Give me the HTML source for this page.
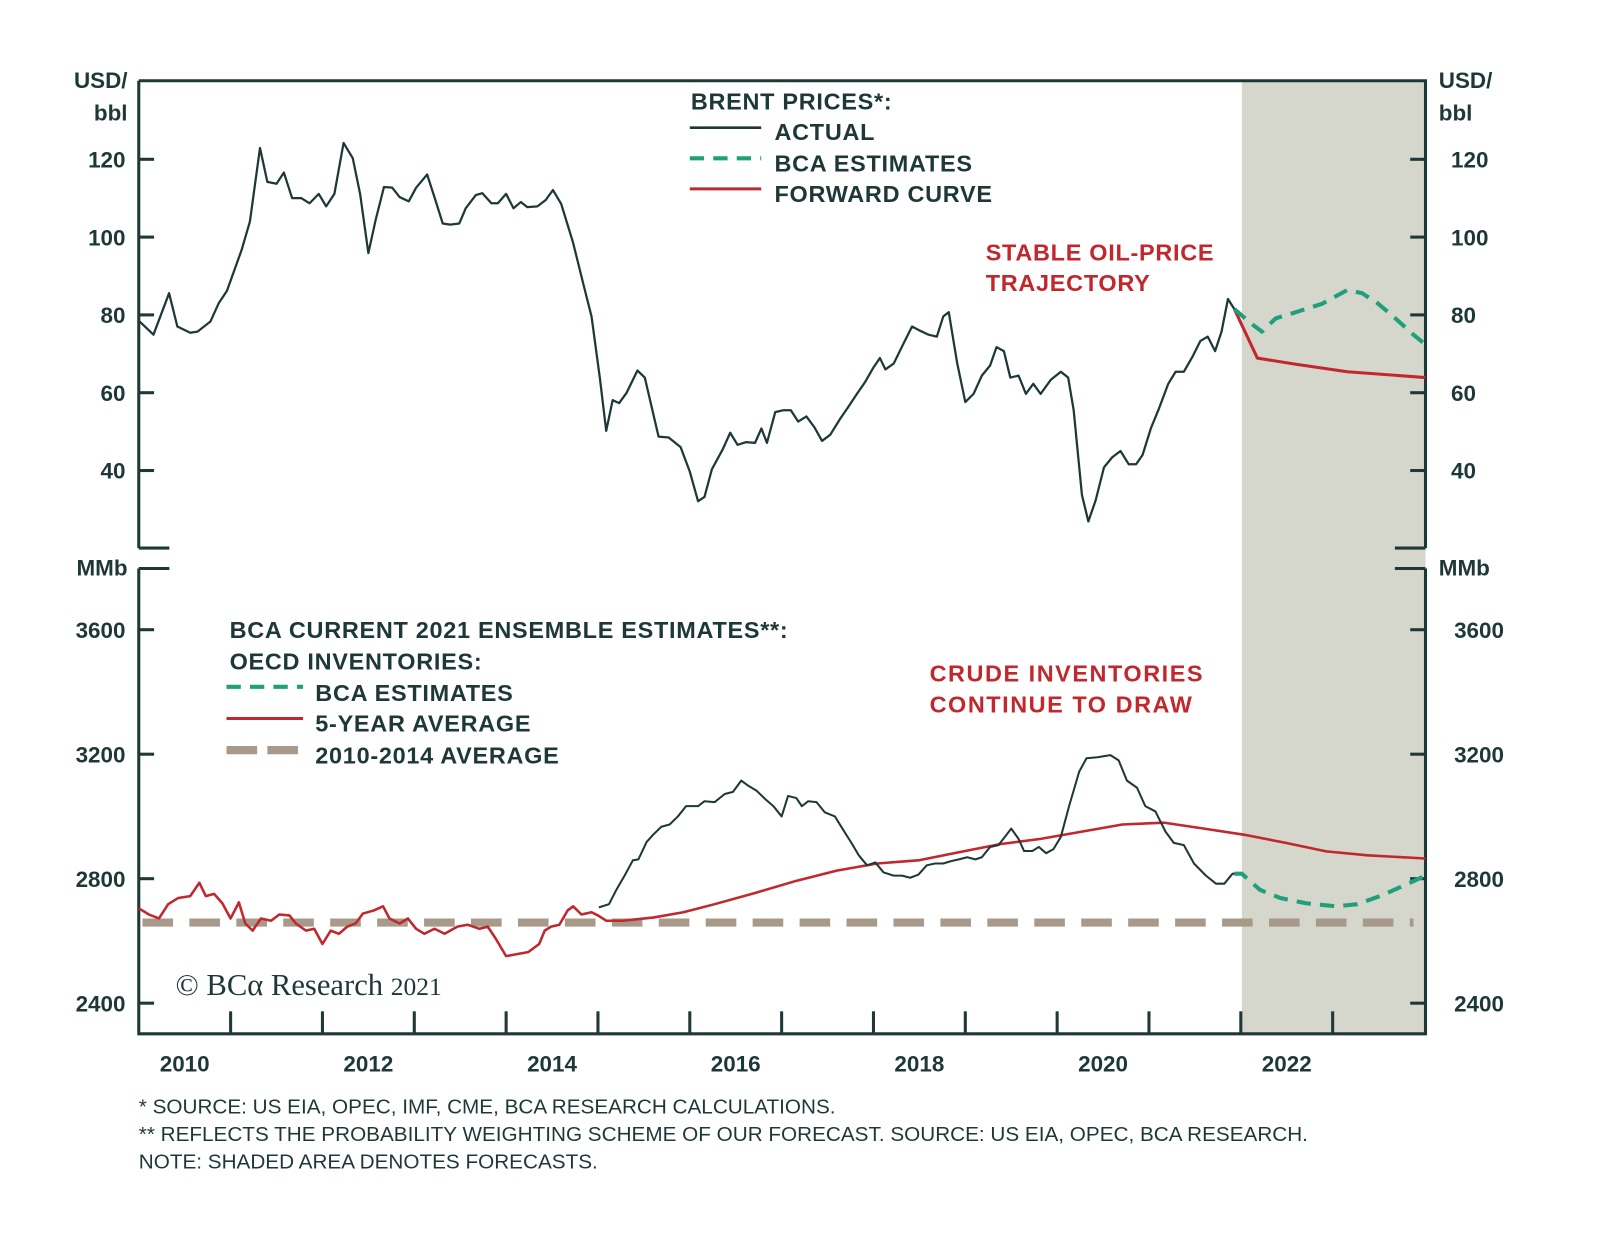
<!DOCTYPE html>
<html><head><meta charset="utf-8"><style>
html,body{margin:0;padding:0;background:#fff;}
svg{display:block;}
text{font-family:"Liberation Sans",sans-serif;font-weight:bold;fill:#1e3838;}
.r{fill:#c0282d;}
.lg{font-size:23px;letter-spacing:0.7px;}
.fn{font-size:20.3px;font-weight:normal;}
</style></head><body>
<svg id="chart" width="1600" height="1239" viewBox="0 0 1568 1214" xmlns="http://www.w3.org/2000/svg">
<rect x="1217" y="79" width="180" height="934" fill="#d5d6cc"/>
<g id="axes" stroke="#1e3838" stroke-width="3" fill="none">
<path d="M136 79 H1397 V537 M136 79 V537 M136 537 H166 M1367 537 H1397"/>
<path d="M136 557 H166 M1367 557 H1397 M136 557 V1013 H1397 V557"/>
</g>
<g id="ticks" stroke="#1e3838" stroke-width="3"></g>
<g id="labels"></g>
<text x="125" y="86" text-anchor="end" font-size="22">USD/</text>
<text x="125" y="118" text-anchor="end" font-size="22">bbl</text>
<text x="1410" y="86" font-size="22">USD/</text>
<text x="1410" y="118" font-size="22">bbl</text>
<text x="125" y="564" text-anchor="end" font-size="22">MMb</text>
<text x="1410" y="564" font-size="22">MMb</text>
<g id="series" fill="none"></g>
<g class="lg">
<text x="677" y="107">BRENT PRICES*:</text>
<line x1="676" y1="125" x2="746" y2="125" stroke="#1e3838" stroke-width="2.5"/>
<line x1="676" y1="155" x2="746" y2="155" stroke="#1fa07a" stroke-width="4" stroke-dasharray="14,9"/>
<line x1="676" y1="185" x2="746" y2="185" stroke="#c0282d" stroke-width="3"/>
<text x="759" y="137">ACTUAL</text>
<text x="759" y="168">BCA ESTIMATES</text>
<text x="759" y="198">FORWARD CURVE</text>
</g>
<g class="lg">
<text x="225" y="625">BCA CURRENT 2021 ENSEMBLE ESTIMATES**:</text>
<text x="225" y="656">OECD INVENTORIES:</text>
<line x1="222" y1="673" x2="297" y2="673" stroke="#1fa07a" stroke-width="4" stroke-dasharray="14,9"/>
<line x1="222" y1="704" x2="297" y2="704" stroke="#c0282d" stroke-width="3"/>
<line x1="222" y1="735" x2="297" y2="735" stroke="#a89a8a" stroke-width="8" stroke-dasharray="30,10"/>
<text x="309" y="687">BCA ESTIMATES</text>
<text x="309" y="717">5-YEAR AVERAGE</text>
<text x="309" y="748">2010-2014 AVERAGE</text>
</g>
<text class="r lg" x="966" y="255">STABLE OIL-PRICE</text>
<text class="r lg" x="966" y="285">TRAJECTORY</text>
<text class="r lg" x="911" y="668" style="letter-spacing:1.5px">CRUDE INVENTORIES</text>
<text class="r lg" x="911" y="698" style="letter-spacing:1.5px">CONTINUE TO DRAW</text>
<text x="172" y="975" font-size="30" style="font-family:'Liberation Serif',serif;font-weight:normal">© BCα Research <tspan font-size="25">2021</tspan></text>
<text class="fn" x="136" y="1091">*  SOURCE: US EIA, OPEC, IMF, CME, BCA RESEARCH CALCULATIONS.</text>
<text class="fn" x="136" y="1118">** REFLECTS THE PROBABILITY WEIGHTING SCHEME OF OUR FORECAST. SOURCE: US EIA, OPEC, BCA RESEARCH.</text>
<text class="fn" x="136" y="1145">NOTE: SHADED AREA DENOTES FORECASTS.</text>
</svg>
<script>
const upperTicks=[40,60,80,100,120];
const lowerTicks=[2400,2800,3200,3600];
const yearLabels=[2010,2012,2014,2016,2018,2020,2022];
const brentT=[2010.01,2010.16,2010.33,2010.42,2010.56,2010.64,2010.78,2010.87,2010.96,2011.12,2011.21,2011.32,2011.40,2011.50,2011.58,2011.67,2011.77,2011.86,2011.96,2012.04,2012.13,2012.23,2012.33,2012.41,2012.50,2012.58,2012.67,2012.76,2012.84,2012.94,2013.02,2013.14,2013.23,2013.31,2013.39,2013.49,2013.56,2013.67,2013.74,2013.84,2013.91,2014.00,2014.08,2014.16,2014.23,2014.34,2014.43,2014.51,2014.60,2014.73,2014.84,2014.93,2015.02,2015.09,2015.16,2015.23,2015.31,2015.43,2015.51,2015.66,2015.77,2015.90,2016.00,2016.09,2016.16,2016.24,2016.36,2016.44,2016.52,2016.61,2016.71,2016.78,2016.84,2016.93,2017.02,2017.10,2017.18,2017.27,2017.36,2017.44,2017.53,2017.64,2017.73,2017.82,2017.91,2018.00,2018.07,2018.13,2018.22,2018.32,2018.42,2018.51,2018.60,2018.69,2018.76,2018.82,2018.91,2019.00,2019.09,2019.18,2019.27,2019.34,2019.42,2019.49,2019.58,2019.66,2019.74,2019.82,2019.93,2020.04,2020.12,2020.18,2020.27,2020.34,2020.42,2020.51,2020.60,2020.69,2020.78,2020.86,2020.93,2021.02,2021.11,2021.21,2021.29,2021.38,2021.47,2021.56,2021.64,2021.72,2021.79,2021.86,2021.93];
const brentV=[78.3,74.9,85.6,77.0,75.4,75.7,78.3,83.0,86.2,96.7,104.0,122.9,114.2,113.7,116.6,110.0,110.0,108.7,111.1,107.9,111.1,124.2,120.3,111.1,95.9,104.5,112.9,112.7,110.3,109.2,112.7,116.1,109.5,103.5,103.2,103.5,107.4,110.8,111.3,108.7,108.7,111.1,107.4,109.0,107.7,107.9,109.5,112.1,108.5,98.5,88.0,79.6,63.9,50.2,58.1,57.3,59.9,65.7,63.9,48.7,48.5,46.0,39.7,32.1,33.2,40.3,45.5,49.7,46.6,47.3,47.1,50.8,47.1,55.0,55.5,55.5,52.6,53.9,51.0,47.6,49.2,53.4,56.5,59.7,62.8,66.5,68.9,66.0,67.5,72.3,77.0,75.9,74.9,74.4,79.6,80.7,67.8,57.6,59.7,64.4,67.0,71.7,70.7,63.9,64.4,59.7,62.3,59.7,63.3,65.4,63.9,55.5,33.7,26.9,32.4,40.8,43.4,45.0,41.6,41.6,44.0,50.8,56.0,62.3,65.4,65.4,69.1,73.3,74.4,70.7,75.7,84.1,81.5];
const fwdT=[2021.93,2022.18,2022.60,2023.16,2024.01];
const fwdV=[81.5,68.9,67.3,65.4,63.9];
const bcaBrentT=[2021.93,2022.10,2022.23,2022.38,2022.60,2022.88,2023.16,2023.32,2023.49,2023.66,2023.88,2023.99];
const bcaBrentV=[81.5,78.0,75.7,79.1,80.7,82.8,86.4,85.6,83.0,79.6,74.9,72.8];
const invT=[2015.01,2015.12,2015.20,2015.29,2015.38,2015.44,2015.53,2015.60,2015.69,2015.78,2015.87,2015.96,2016.09,2016.16,2016.27,2016.38,2016.47,2016.56,2016.64,2016.73,2016.82,2016.91,2017.00,2017.07,2017.16,2017.22,2017.29,2017.38,2017.47,2017.58,2017.67,2017.76,2017.84,2017.93,2018.02,2018.11,2018.22,2018.31,2018.40,2018.49,2018.58,2018.67,2018.76,2018.84,2018.93,2019.02,2019.11,2019.18,2019.27,2019.36,2019.43,2019.50,2019.58,2019.64,2019.73,2019.80,2019.88,2019.96,2020.04,2020.13,2020.24,2020.32,2020.44,2020.58,2020.67,2020.76,2020.87,2020.96,2021.07,2021.18,2021.27,2021.38,2021.49,2021.62,2021.73,2021.82,2021.91,2021.97];
const invV=[2708,2718,2764,2810,2859,2862,2918,2941,2967,2974,3000,3033,3033,3049,3046,3072,3079,3115,3098,3082,3056,3033,3000,3066,3059,3033,3049,3046,3013,3000,2957,2915,2875,2843,2852,2820,2810,2810,2803,2813,2843,2849,2849,2856,2862,2869,2862,2869,2902,2908,2934,2961,2928,2889,2889,2902,2882,2895,2934,3033,3144,3187,3190,3197,3180,3115,3092,3033,3016,2951,2915,2908,2849,2810,2784,2784,2816,2816];
const avg5T=[2010.00,2010.11,2010.22,2010.32,2010.43,2010.56,2010.66,2010.73,2010.82,2010.91,2011.00,2011.09,2011.16,2011.24,2011.33,2011.44,2011.53,2011.64,2011.71,2011.82,2011.91,2012.00,2012.09,2012.18,2012.27,2012.36,2012.44,2012.56,2012.66,2012.73,2012.84,2012.93,2013.02,2013.11,2013.22,2013.33,2013.47,2013.58,2013.71,2013.80,2013.89,2014.00,2014.11,2014.24,2014.36,2014.42,2014.49,2014.58,2014.67,2014.73,2014.82,2014.93,2015.00,2015.09,2015.27,2015.60,2015.93,2016.27,2016.71,2017.16,2017.60,2018.04,2018.49,2018.93,2019.38,2019.82,2020.27,2020.71,2021.16,2021.60,2022.04,2022.49,2022.93,2023.38,2024.01];
const avg5V=[2705,2685,2672,2718,2738,2744,2787,2744,2751,2721,2672,2724,2656,2633,2672,2665,2685,2682,2656,2633,2639,2590,2633,2623,2646,2656,2688,2698,2711,2672,2656,2672,2639,2623,2639,2623,2646,2652,2639,2646,2606,2551,2557,2564,2590,2633,2646,2652,2698,2711,2685,2692,2682,2665,2665,2675,2692,2718,2754,2793,2826,2849,2859,2885,2911,2928,2951,2974,2980,2961,2941,2915,2888,2875,2865];
const bcaInvT=[2021.93,2022.01,2022.21,2022.43,2022.71,2023.04,2023.27,2023.54,2023.82,2024.01];
const bcaInvV=[2816,2816,2764,2738,2721,2711,2718,2747,2784,2810];
const avg1014T=[2010.04,2023.88];
const avg1014V=[2659,2659];

const NS='http://www.w3.org/2000/svg';
const X=t=>136+(t-2010)*90;
const YU=v=>156+(120-v)*3.8125;
const YL=v=>617+(3600-v)*0.305;
function mk(tag,attrs,parent){const e=document.createElementNS(NS,tag);for(const k in attrs)e.setAttribute(k,attrs[k]);parent.appendChild(e);return e;}
const ticks=document.getElementById('ticks'),labels=document.getElementById('labels'),series=document.getElementById('series');
upperTicks.forEach(v=>{
  let a=mk('line',{x1:136,x2:151,y1:YU(v),y2:YU(v)},ticks);
  
  
  let b=mk('line',{x1:1382,x2:1397,y1:YU(v),y2:YU(v)},ticks);
  
  
  let t1=mk('text',{x:123,y:YU(v)+8,'text-anchor':'end','font-size':22},labels);t1.textContent=v;
  
  
  let t2=mk('text',{x:1422,y:YU(v)+8,'font-size':22},labels);t2.textContent=v;
  
  
});
lowerTicks.forEach(v=>{
  let a=mk('line',{x1:136,x2:151,y1:YL(v),y2:YL(v)},ticks);
  
  
  let b=mk('line',{x1:1382,x2:1397,y1:YL(v),y2:YL(v)},ticks);
  
  
  let t1=mk('text',{x:123,y:YL(v)+8,'text-anchor':'end','font-size':22},labels);t1.textContent=v;
  
  
  let t2=mk('text',{x:1425,y:YL(v)+8,'font-size':22},labels);t2.textContent=v;
  
  
});
for(let y=2011;y<=2023;y++){
  let a=mk('line',{x1:X(y),x2:X(y),y1:991,y2:1013},ticks);
  
  
}
yearLabels.forEach(y=>{
  let t=mk('text',{x:X(y+0.5),y:1050,'text-anchor':'middle','font-size':22},labels);t.textContent=y;
  
  
});
function line(T,V,Y,attrs,name){
  const d=T.map((t,i)=>(i?'L':'M')+X(t).toFixed(1)+' '+Y(V[i]).toFixed(1)).join(' ');
  const p=mk('path',Object.assign({d:d,'stroke-linejoin':'round'},attrs),series);
  
  
}
line(avg1014T,avg1014V,YL,{stroke:'#a89a8a','stroke-width':8,'stroke-dasharray':'30,16'},'avg-2010-2014-line');
line(avg5T,avg5V,YL,{stroke:'#c0282d','stroke-width':2.5},'five-year-average-line');
line(invT,invV,YL,{stroke:'#1e3838','stroke-width':2},'inventory-actual-line');
line(bcaInvT,bcaInvV,YL,{stroke:'#1fa07a','stroke-width':4,'stroke-dasharray':'14,9'},'inventory-bca-estimate-line');
line(brentT,brentV,YU,{stroke:'#1e3838','stroke-width':2.2},'brent-actual-line');
line(fwdT,fwdV,YU,{stroke:'#c0282d','stroke-width':3},'brent-forward-curve-line');
line(bcaBrentT,bcaBrentV,YU,{stroke:'#1fa07a','stroke-width':4,'stroke-dasharray':'14,9'},'brent-bca-estimate-line');
</script>
</body></html>
